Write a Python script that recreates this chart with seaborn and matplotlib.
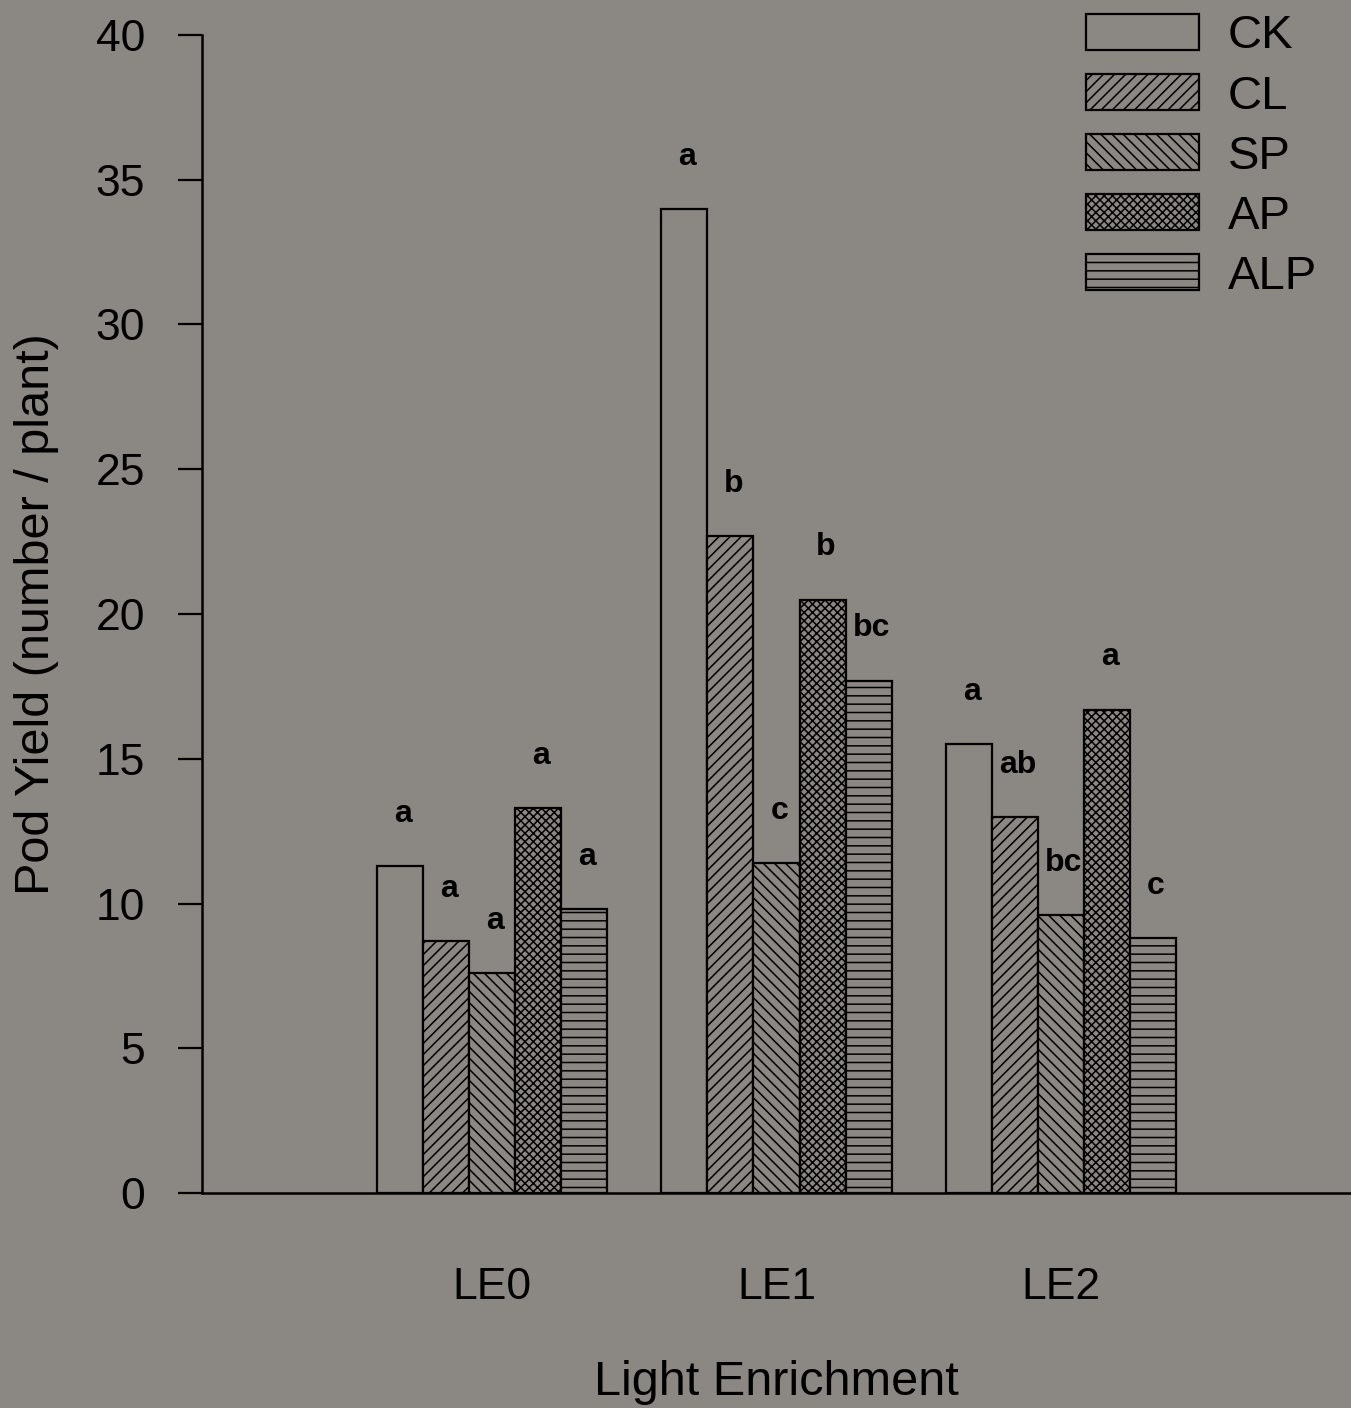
import numpy as np
import pandas as pd
import matplotlib
matplotlib.use("Agg")
import matplotlib.pyplot as plt
import seaborn as sns

# values
levels = ["LE0", "LE1", "LE2"]
treatments = ["CK", "CL", "SP", "AP", "ALP"]
ck = [11.3, 34.0, 15.5]
cl = [8.7, 22.7, 13.0]
sp = [7.6, 11.4, 9.6]
ap = [13.3, 20.5, 16.7]
alp = [9.8, 17.7, 8.8]
letters_ck = ["a", "a", "a"]
letters_cl = ["a", "b", "ab"]
letters_sp = ["a", "c", "bc"]
letters_ap = ["a", "b", "a"]
letters_alp = ["a", "bc", "c"]

series = [ck, cl, sp, ap, alp]
letters = [letters_ck, letters_cl, letters_sp, letters_ap, letters_alp]
df = pd.DataFrame({
    "level": levels * len(treatments),
    "treatment": np.repeat(treatments, len(levels)),
    "value": np.concatenate(series),
})

bg = "#8b8782"
sns.set_style("ticks")
plt.rcParams["font.family"] = ["Liberation Sans", "DejaVu Sans"]
plt.rcParams["text.color"] = "black"
plt.rcParams["axes.labelcolor"] = "black"
plt.rcParams["xtick.color"] = "black"
plt.rcParams["ytick.color"] = "black"
plt.rcParams["axes.edgecolor"] = "black"
plt.rcParams["hatch.linewidth"] = 1.1
plt.rcParams["hatch.color"] = "black"

fig = plt.figure(figsize=(13.51, 14.08), dpi=100, facecolor=bg)
ax = fig.add_axes([202 / 1351, 215 / 1408, 1 - 202 / 1351, 1158 / 1408])
ax.set_facecolor(bg)

sns.barplot(data=df, x="level", y="value", hue="treatment", order=levels,
            hue_order=treatments, palette=[bg] * 5, edgecolor="black",
            linewidth=1.6, width=0.81, saturation=1, ax=ax, legend=False)

hatches = ["", "///", "\\\\\\", "xxxx", "--"]
for cont, h, labs in zip(ax.containers, hatches, letters):
    for bar, lab in zip(cont.patches, labs):
        bar.set_hatch(h)
        bar.set_facecolor(bg)
        ax.text(bar.get_x() + bar.get_width() / 2 + 0.01, bar.get_height() + 1.8, lab,
                ha="center", va="center", fontsize=23, fontweight="bold")

ax.set_xlim(-1.02, 3.02)
ax.set_ylim(0, 40)
ax.set_yticks(range(0, 41, 5))
sns.despine(ax=ax)
ax.spines["left"].set_linewidth(1.8)
ax.spines["bottom"].set_linewidth(1.8)
ax.tick_params(axis="y", length=17, width=1.6, pad=24, labelsize=32)
ax.tick_params(axis="x", length=0, pad=53, labelsize=32)
ax.set_xlabel("Light Enrichment", fontsize=35, labelpad=38)
ax.set_ylabel("Pod Yield (number / plant)", fontsize=35, labelpad=26)

ax.legend(ax.containers, treatments, loc="upper left",
          bbox_to_anchor=(1086 / 1351, 1 - 14 / 1408),
          bbox_transform=fig.transFigure, frameon=False, fontsize=34,
          handlelength=2.4, handleheight=0.8, handletextpad=0.6,
          labelspacing=0.33, borderpad=0, borderaxespad=0)

fig.savefig("out.png", dpi=100, facecolor=bg)
